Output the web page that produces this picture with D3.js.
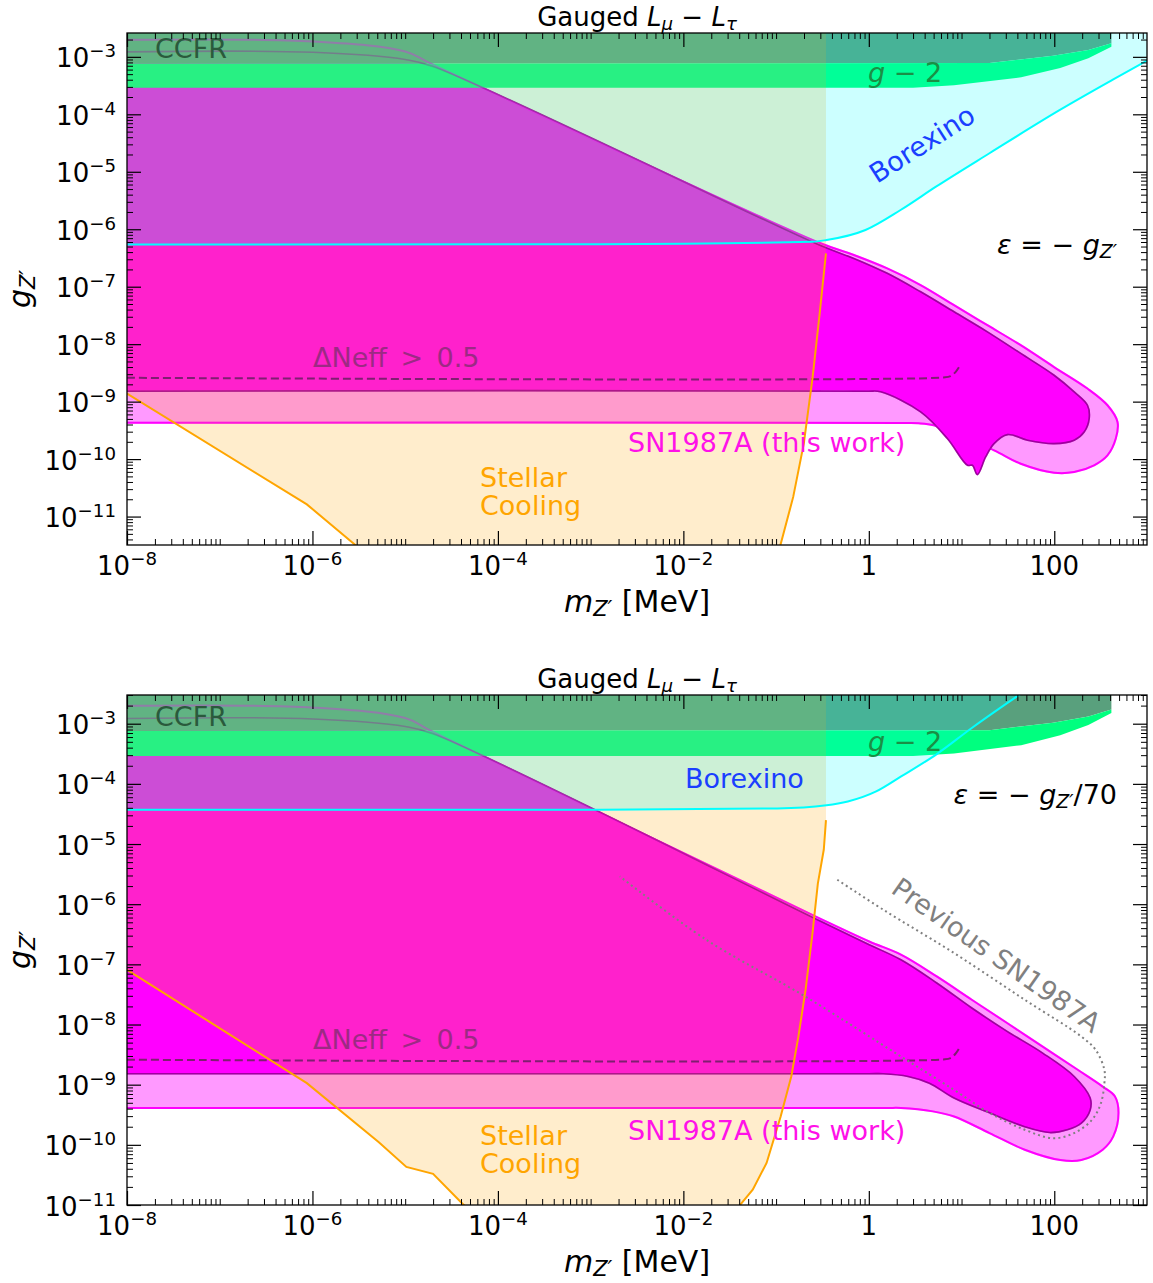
<!DOCTYPE html>
<html>
<head>
<meta charset="utf-8">
<script src="https://cdn.jsdelivr.net/npm/d3@7"></script>
<style>
  body { margin: 0; background: #fff; }
  text { font-family: "DejaVu Sans", sans-serif; }
</style>
</head>
<body>
<div id="chart-area"></div>
<script>
// ---- data: mass m_Z' in MeV, coupling g_Z' ----
const massTickValues = [1e-8, 1e-6, 1e-4, 1e-2, 1, 100];
const massTickLabels = [["10", "−8"], ["10", "−6"], ["10", "−4"], ["10", "−2"], ["1", ""], ["100", ""]];
const couplingTickExps = [-3, -4, -5, -6, -7, -8, -9, -10, -11];

// g-2 band and CCFR (same in both panels)
const gm2Lower = [[1e-8, 2.9e-4], [3.0, 2.9e-4], [8.3, 3.2e-4], [44, 4.4e-4], [116, 6.4e-4], [233, 9.5e-4], [413, 1.5e-3]];
const gm2Upper = [[1e-8, 7.6e-4], [20, 7.8e-4], [97, 1.04e-3], [233, 1.32e-3], [413, 1.73e-3]];
const regionTop = 1e-2;   // shaded regions continue above the frame

// Delta Neff > 0.5 (same in both panels)
const dNeff = [[1e-8, 2.6e-9], [6.4, 2.63e-9], [7.6, 2.77e-9], [8.65, 3.3e-9], [9.5, 4.1e-9]];

// SN1987A low-mass edges (same in both panels)
const snOuterUpperLeft = [[0.302, 5.7e-7], [2.0e-5, 7.3e-4], [1.0e-5, 1.24e-3], [1.02e-6, 1.85e-3], [1e-8, 1.98e-3]];
const snInnerUpperLeft = [[0.302, 5.2e-7], [2.0e-5, 6.8e-4], [1.0e-5, 9.0e-4], [1.02e-6, 1.2e-3], [1e-8, 1.22e-3]];

// epsilon = -g_Z'
const stellarLeftA = [[1e-8, 1.38e-9], [8.7e-7, 1.63e-11], [2.9e-6, 3.2e-12], [3.5e-6, 2.5e-12]];
const stellarRightA = [[0.107, 2.5e-12], [0.153, 2.2e-11], [0.199, 1.86e-10], [0.248, 2.7e-9], [0.295, 3.4e-8], [0.345, 3.8e-7]];
const borexinoA = [[1e-8, 5.4e-7], [1.27e-3, 5.5e-7], [0.247, 6.05e-7], [0.351, 6.5e-7], [0.92, 9.7e-7], [2.2, 2.16e-6],
  [5.3, 5.5e-6], [20, 2.1e-5], [115, 1.19e-4], [428, 4.0e-4], [1040, 8.9e-4]];
const snOuterA = [[1e-8, 4.3e-10], [2.5, 4.25e-10], [3.45, 4.2e-10], [5.0, 3.88e-10], [8.3, 2.8e-10], [22.4, 1.42e-10], [43.5, 8.3e-11],
  [99.5, 5.8e-11], [164, 5.96e-11], [269, 7.8e-11], [375, 1.16e-10], [461, 2.28e-10], [481, 4.43e-10],
  [375, 8.65e-10], [228, 1.69e-9], [99.5, 4.0e-9], [43.5, 9.6e-9], [19.0, 2.14e-8], [8.3, 4.78e-8],
  [3.62, 1.07e-7], [1.58, 2.08e-7], [0.69, 3.56e-7]];
const snInnerA = [[1e-8, 1.52e-9], [0.95, 1.52e-9], [1.34, 1.48e-9], [3.62, 6.62e-10], [7.03, 2.28e-10], [11.6, 7.8e-11], [13.1, 7.8e-11],
  [14.8, 5.37e-11], [18.2, 1.09e-10], [22.4, 1.86e-10], [31.3, 2.67e-10], [51.4, 2.13e-10], [99.5, 1.86e-10],
  [164, 2.13e-10], [210, 2.96e-10], [238, 5.08e-10], [228, 8.65e-10], [164, 1.48e-9], [99.5, 2.88e-9],
  [43.5, 6.9e-9], [19.0, 1.64e-8], [8.3, 3.66e-8], [3.62, 8.15e-8], [1.58, 1.71e-7], [0.69, 3.11e-7]];

// epsilon = -g_Z'/70
const stellarLeftB = [[1e-8, 8.1e-8], [8.7e-7, 1.06e-9], [5.2e-6, 1.1e-10], [1.03e-5, 4.3e-11], [2.0e-5, 3.3e-11],
  [4.1e-5, 1.07e-11], [5.0e-5, 7.9e-12]];
const stellarRightB = [[0.036, 7.9e-12], [0.056, 1.8e-11], [0.079, 5.0e-11], [0.112, 2.95e-10], [0.146, 1.38e-9],
  [0.174, 6.3e-9], [0.208, 3.8e-8], [0.247, 3.3e-7], [0.282, 2.2e-6], [0.327, 8.1e-6], [0.345, 2.5e-5]];
const borexinoB = [[1e-8, 3.7e-5], [1.27e-3, 3.7e-5], [0.103, 3.9e-5], [0.35, 4.4e-5], [0.594, 5.1e-5], [1.2, 7.5e-5],
  [2.23, 1.33e-4], [5.36, 3.1e-4], [12.9, 8.5e-4], [31, 2.2e-3], [56, 4.1e-3]];
const snOuterB = [[1e-8, 4.1e-10], [1.5, 4.1e-10], [2.22, 4.1e-10], [4.9, 3.6e-10], [8.3, 2.96e-10], [20, 1.57e-10], [48, 8.3e-11],
  [116, 5.6e-11], [196, 5.6e-11], [333, 8.3e-11], [433, 1.38e-10], [493, 3.4e-10], [450, 6.4e-10],
  [333, 9.3e-10], [179, 1.77e-9], [75, 4.3e-9], [31, 1.06e-8], [12.9, 2.58e-8], [5.4, 6.3e-8],
  [2.22, 1.45e-7], [1.01, 2.4e-7]];
const snInnerB = [[1e-8, 1.52e-9], [1.0, 1.52e-9], [1.43, 1.52e-9], [2.65, 1.37e-9], [4.5, 1.06e-9], [8.3, 6.0e-10], [20, 3.4e-10],
  [48, 2.0e-10], [89, 1.6e-10], [138, 1.78e-10], [196, 2.3e-10], [244, 3.8e-10], [244, 6.0e-10],
  [164, 1.37e-9], [75, 3.35e-9], [31, 7.7e-9], [12.9, 1.88e-8], [5.4, 4.9e-8], [2.22, 1.19e-7], [1.01, 2.12e-7]];
const previousSN = [[0.457, 2.55e-6], [1.43, 8.1e-7], [8.3, 1.54e-7], [48, 2.58e-8], [196, 6.3e-9], [279, 3.8e-9],
  [347, 1.77e-9], [347, 1.06e-9], [318, 4.9e-10], [255, 2.6e-10], [164, 1.57e-10], [97, 1.29e-10], [48, 1.78e-10],
  [20, 3.4e-10], [8.3, 8.2e-10], [2.22, 2.94e-9], [0.208, 2.9e-8], [0.0177, 2.56e-7], [2.06e-3, 2.9e-6]];

// text pieces
const titleParts = [{t: "Gauged "}, {t: "L", it: 1}, {t: "μ", it: 1, sub: 1}, {t: " − "}, {t: "L", it: 1}, {t: "τ", it: 1, sub: 1}];
const xLabelParts = [{t: "m", it: 1}, {t: "Z′", it: 1, sub: 1}, {t: " [MeV]"}];
const yLabelParts = [{t: "g", it: 1}, {t: "Z′", it: 1, sub: 1}];
const epsPartsA = [{t: "ε", it: 1}, {t: " = − "}, {t: "g", it: 1}, {t: "Z′", it: 1, sub: 1}];
const epsPartsB = [{t: "ε", it: 1}, {t: " = − "}, {t: "g", it: 1}, {t: "Z′", it: 1, sub: 1}, {t: "/70"}];
const gm2Parts = [{t: "g", it: 1}, {t: " − 2"}];

// ---- layout ----
const plotLeft = 127, plotWidth = 1020;
const TICK_FONT = 26, LABEL_FONT = 30, NOTE_FONT = 27, TITLE_FONT = 26;
const ccfrColor = "#59a07d", gm2Color = "#00ff7f";

const panels = [
  {top: 33, height: 512, yDomain: [3.2e-12, 2.6e-3], stellarLeft: stellarLeftA, stellarRight: stellarRightA,
   borexino: borexinoA, snOuter: snOuterA, snInner: snInnerA, eps: epsPartsA, prev: null,
   notes: {ccfr: [28, 25], gm2: [741, 49], borex: [800, 119, -32.5], eps: [990, 221], neff: [186, 334], sn: [501, 419], stellar: [353, 454]}},
  {top: 695, height: 510, yDomain: [1e-11, 3e-3], stellarLeft: stellarLeftB, stellarRight: stellarRightB,
   borexino: borexinoB, snOuter: snOuterB, snInner: snInnerB, eps: epsPartsB, prev: previousSN,
   notes: {ccfr: [28, 31], gm2: [741, 56], borex: [558, 93, 0], eps: [990, 109], neff: [186, 354], sn: [501, 445], stellar: [353, 450], prev: [864, 268, 35]}}
];

const svg = d3.select("#chart-area").append("svg")
  .attr("width", 1153)
  .attr("height", 1283);

const x = d3.scaleLog().domain([1e-8, 1e3]).range([0, plotWidth]);

panels.forEach((p, i) => plotPanel(p, i));

// write text made of normal / italic / sub / superscript pieces
function rich(sel, parts, size) {
  let shift = 0;
  parts.forEach(part => {
    const target = part.sub ? 0.15 * size : part.sup ? -0.38 * size : 0;
    const ts = sel.append("tspan").attr("dy", target - shift).text(part.t);
    shift = target;
    if (part.it) ts.attr("font-style", "italic");
    if (part.sub || part.sup) ts.attr("font-size", size * 0.7);
  });
  return sel;
}

function addText(to, parts, px, py, size, color, anchor) {
  const t = to.append("text")
    .attr("x", px).attr("y", py)
    .attr("font-size", size)
    .attr("fill", color)
    .attr("text-anchor", anchor || "start")
    .style("white-space", "pre");
  return rich(t, parts, size);
}

function plotPanel(p, i) {
  const y = d3.scaleLog().domain(p.yDomain).range([p.height, 0]);
  const g = svg.append("g").attr("transform", `translate(${plotLeft},${p.top})`);
  const clipId = "clip" + i;
  g.append("clipPath").attr("id", clipId)
    .append("rect").attr("width", plotWidth).attr("height", p.height);
  const area = g.append("g").attr("clip-path", `url(#${clipId})`);

  const lin = d3.line().x(d => x(d[0])).y(d => y(d[1]));
  const smooth = d3.line().x(d => x(d[0])).y(d => y(d[1])).curve(d3.curveCatmullRom.alpha(0.5));
  const mMin = x.domain()[0];

  const outer = p.snOuter.concat(snOuterUpperLeft);
  const inner = p.snInner.concat(snInnerUpperLeft);

  // SN1987A (this work)
  area.append("path").attr("d", smooth(outer)).attr("fill", "#ff00ff").attr("fill-opacity", 0.4);
  area.append("path").attr("d", smooth(inner)).attr("fill", "#ff00ff");
  const drawEdges = (opacity) => {
    area.append("path").attr("d", smooth(outer)).attr("fill", "none")
      .attr("stroke", "#ff00ff").attr("stroke-opacity", opacity).attr("stroke-width", 2);
    area.append("path").attr("d", smooth(inner)).attr("fill", "none")
      .attr("stroke", "#a000a0").attr("stroke-opacity", opacity).attr("stroke-width", 1.6);
  };
  drawEdges(1);

  // CCFR and g-2
  const gmEnd = gm2Upper[gm2Upper.length - 1][0];
  area.append("path")
    .attr("d", lin(gm2Upper.concat([[gmEnd, regionTop], [mMin, regionTop]])))
    .attr("fill", ccfrColor);
  area.append("path")
    .attr("d", lin(gm2Lower.concat(gm2Upper.slice().reverse())))
    .attr("fill", gm2Color);

  // stellar cooling
  const stEnd = p.stellarRight[p.stellarRight.length - 1][0];
  area.append("path")
    .attr("d", lin(p.stellarLeft.concat(p.stellarRight, [[stEnd, regionTop], [mMin, regionTop]])))
    .attr("fill", "#ffa500").attr("fill-opacity", 0.2);

  // Borexino
  const borexArea = d3.area().x(d => x(d[0])).y0(0).y1(d => y(d[1])).curve(d3.curveMonotoneX);
  area.append("path").attr("d", borexArea(p.borexino))
    .attr("fill", "#00ffff").attr("fill-opacity", 0.2);

  // faint SN edges showing through the upper bands
  drawEdges(0.3);

  // Delta Neff
  area.append("path").attr("d", smooth(dNeff)).attr("fill", "none")
    .attr("stroke", "#7f1f70").attr("stroke-width", 2).attr("stroke-dasharray", "8,4");

  // previous SN1987A bound
  if (p.prev) {
    area.append("path").attr("d", smooth(p.prev)).attr("fill", "none")
      .attr("stroke", "#808080").attr("stroke-width", 2).attr("stroke-dasharray", "2,3.2");
  }

  // boundary lines
  area.append("path").attr("d", lin(p.stellarLeft)).attr("fill", "none")
    .attr("stroke", "#ffa500").attr("stroke-width", 2);
  area.append("path").attr("d", lin(p.stellarRight)).attr("fill", "none")
    .attr("stroke", "#ffa500").attr("stroke-width", 2);
  area.append("path").attr("d", d3.line().x(d => x(d[0])).y(d => y(d[1])).curve(d3.curveMonotoneX)(p.borexino))
    .attr("fill", "none").attr("stroke", "#00ffff").attr("stroke-width", 2);

  // annotations
  const n = p.notes;
  addText(g, [{t: "CCFR"}], n.ccfr[0], n.ccfr[1], NOTE_FONT, "#2a5a3c");
  addText(g, gm2Parts, n.gm2[0], n.gm2[1], NOTE_FONT, "#1a8f45");
  addText(g, p.eps, n.eps[0], n.eps[1], NOTE_FONT, "#000", "end");
  addText(g, [{t: "ΔNeff\u2002>\u20020.5"}], n.neff[0], n.neff[1], NOTE_FONT, "#9c2a84");
  addText(g, [{t: "SN1987A (this work)"}], n.sn[0], n.sn[1], NOTE_FONT, "#ff11e8");
  addText(g, [{t: "Stellar"}], n.stellar[0], n.stellar[1], NOTE_FONT, "#ffa500");
  addText(g, [{t: "Cooling"}], n.stellar[0], n.stellar[1] + 28, NOTE_FONT, "#ffa500");

  const bx = g.append("g").attr("transform", `translate(${n.borex[0]},${n.borex[1]}) rotate(${n.borex[2]})`);
  if (n.borex[2] !== 0) {
    addText(bx, [{t: "Borexino"}], 0, 0, NOTE_FONT, "#1a3fff", "middle").attr("dy", "0.35em");
  } else {
    addText(bx, [{t: "Borexino"}], 0, 0, NOTE_FONT, "#1a3fff", "start");
  }
  if (n.prev) {
    const pv = g.append("g").attr("transform", `translate(${n.prev[0]},${n.prev[1]}) rotate(${n.prev[2]})`);
    addText(pv, [{t: "Previous SN1987A"}], 0, 0, NOTE_FONT, "#808080", "middle").attr("dy", "0.35em");
  }

  // ticks (inward on all sides)
  const xMinor = [];
  d3.range(-8, 3).forEach(e => d3.range(1, 10).forEach(k => {
    if (!(k === 1 && e % 2 === 0)) xMinor.push(k * Math.pow(10, e));
  }));
  const yMajor = couplingTickExps.map(e => Math.pow(10, e));
  const yMinor = [];
  d3.range(-12, -2).forEach(e => d3.range(2, 10).forEach(k => {
    const v = k * Math.pow(10, e);
    if (v >= p.yDomain[0] && v <= p.yDomain[1]) yMinor.push(v);
  }));

  const axes = [
    [d3.axisBottom(x), `translate(0,${p.height})`, massTickValues, xMinor],
    [d3.axisTop(x), "translate(0,0)", massTickValues, xMinor],
    [d3.axisLeft(y), "translate(0,0)", yMajor, yMinor],
    [d3.axisRight(y), `translate(${plotWidth},0)`, yMajor, yMinor]
  ];
  axes.forEach(([ax, tr, major, minor]) => {
    const gm = g.append("g").attr("transform", tr)
      .call(ax.tickValues(major).tickSizeInner(-14).tickSizeOuter(0).tickFormat(""));
    gm.select(".domain").remove();
    gm.selectAll(".tick line").attr("stroke", "#000").attr("stroke-width", 1.2);
    const gn = g.append("g").attr("transform", tr)
      .call(ax.tickValues(minor).tickSizeInner(-6).tickSizeOuter(0).tickFormat(""));
    gn.select(".domain").remove();
    gn.selectAll(".tick line").attr("stroke", "#000").attr("stroke-width", 1);
  });

  g.append("rect").attr("width", plotWidth).attr("height", p.height)
    .attr("fill", "none").attr("stroke", "#000").attr("stroke-width", 1.3);

  // tick labels
  massTickValues.forEach((v, k) => {
    const lab = massTickLabels[k];
    const parts = lab[1] ? [{t: lab[0]}, {t: lab[1], sup: 1}] : [{t: lab[0]}];
    addText(g, parts, x(v), p.height + 30, TICK_FONT, "#000", "middle");
  });
  couplingTickExps.forEach(e => {
    addText(g, [{t: "10"}, {t: "−" + Math.abs(e), sup: 1}], -11, y(Math.pow(10, e)) + 10.5, TICK_FONT, "#000", "end");
  });

  // titles
  addText(g, titleParts, plotWidth / 2, -7, TITLE_FONT, "#000", "middle");
  addText(g, xLabelParts, plotWidth / 2, p.height + 66.5, LABEL_FONT, "#000", "middle");
  const yl = svg.append("g").attr("transform", `translate(30,${p.top + p.height / 2}) rotate(-90)`);
  addText(yl, yLabelParts, 0, 0, LABEL_FONT, "#000", "middle");
}
</script>
</body>
</html>
